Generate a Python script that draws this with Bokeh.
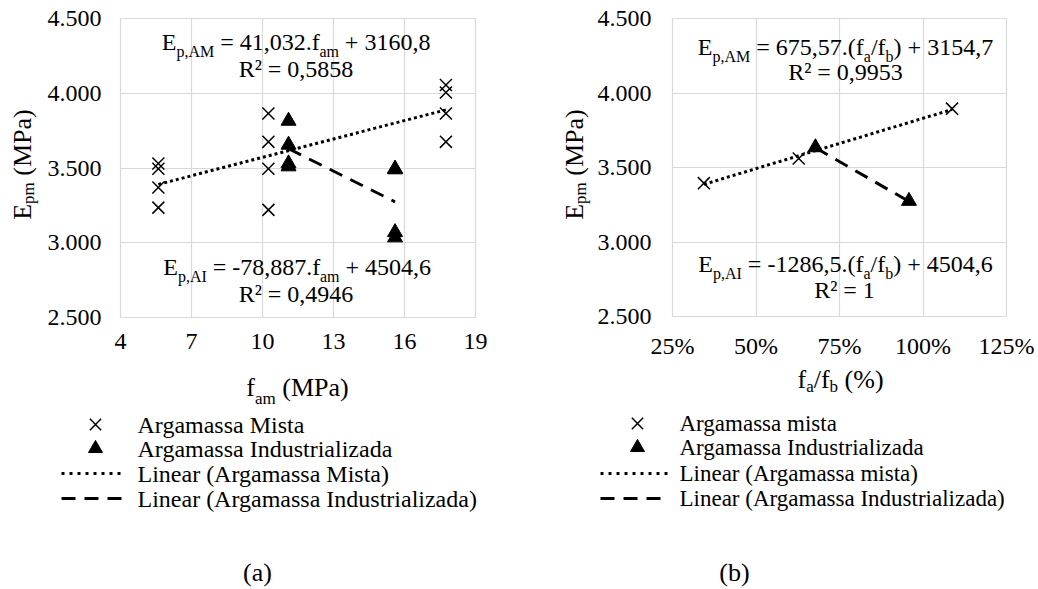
import numpy as np
from bokeh.plotting import figure
from bokeh.models import Range1d, FixedTicker, Label
from bokeh.layouts import row, column
from bokeh.embed import file_html
from bokeh.resources import INLINE

FONT = "Liberation Serif"

# ---------------- data (a) ----------------
a_mista_fam = [5.6, 5.6, 5.6, 5.6, 10.25, 10.25, 10.25, 10.25, 17.75, 17.75, 17.75, 17.75]
a_mista_E = [3530, 3495, 3370, 3235, 3865, 3675, 3495, 3220, 4055, 4005, 3865, 3675]
a_ind_fam = [11.1, 11.1, 11.1, 11.1, 15.6, 15.6, 15.6, 15.6]
a_ind_E = [3815, 3655, 3530, 3510, 3495, 3490, 3070, 3035]
a_fit_mista = [41.032, 3160.8]    # slope, intercept
a_fit_ind = [-78.887, 4504.6]
a_x_ticks = [4, 7, 10, 13, 16, 19]
a_x_labels = ["4", "7", "10", "13", "16", "19"]

# ---------------- data (b) ----------------
b_mista_ratio = [34.4, 62.8, 108.7]   # f_a/f_b in %
b_mista_E = [3395, 3560, 3895]
b_ind_ratio = [67.8, 95.8]
b_ind_E = [3635, 3275]
b_fit_mista = [675.57, 3154.7]    # slope per unit ratio, intercept
b_fit_ind = [-1286.5, 4504.6]
b_x_ticks = [25, 50, 75, 100, 125]
b_x_labels = ["25%", "50%", "75%", "100%", "125%"]

y_ticks = [2500, 3000, 3500, 4000, 4500]
y_labels = ["2.500", "3.000", "3.500", "4.000", "4.500"]

legend_a = ["Argamassa Mista", "Argamassa Industrializada",
            "Linear (Argamassa Mista)", "Linear (Argamassa Industrializada)"]
legend_b = ["Argamassa mista", "Argamassa Industrializada",
            "Linear (Argamassa mista)", "Linear (Argamassa Industrializada)"]

# ---------------- helpers ----------------
CW = {' ': 250, ',': 250, '.': 250, '=': 564, '+': 564, '-': 333, '(': 333, ')': 333,
      '/': 278, '%': 833, '\u00b2': 300, 'A': 722, 'E': 611, 'I': 333, 'M': 889,
      'P': 556, 'R': 667, 'a': 444, 'b': 500, 'f': 333, 'm': 778, 'p': 500}
MID = 0.3375   # distance (in em) from the alphabetic baseline up to the text-box middle


def tw(s, size):
    return sum(CW.get(c, 500) for c in s) * size / 1000.0


def make_conv(fl_page, ft_page, fw, fh, xr, yr):
    def conv(px, py):
        x = xr[0] + (px - fl_page) / fw * (xr[1] - xr[0])
        y = yr[1] - (py - ft_page) / fh * (yr[1] - yr[0])
        return x, y
    return conv


def ident(px, py):
    return px, py


def label(fig, conv, px, py, text, size, align="left", angle=0.0):
    x, y = conv(px, py)
    fig.add_layout(Label(x=x, y=y, text=text, text_font=FONT, text_font_size=f"{size}px",
                         text_align=align, text_baseline="middle", angle=angle,
                         text_color="black"))


def line_at(fig, conv, cx, base, text, size):
    """centred single-size text with its alphabetic baseline at page row `base`"""
    label(fig, conv, cx, base - MID * size, text, size, align="center")


def rich(fig, conv, cx, base, segs, main, sub, dy, vertical=False):
    sizes = [sub if s else main for _, s in segs]
    total = sum(tw(t, sz) for (t, _), sz in zip(segs, sizes))
    pos = -total / 2
    for (t, s), sz in zip(segs, sizes):
        lead = len(t) - len(t.lstrip(' '))
        start = pos + tw(' ' * lead, sz)
        txt = t.strip(' ')
        b = base + (dy if s else 0)
        if not vertical:
            label(fig, conv, cx + start, b - MID * sz, txt, sz)
        else:
            label(fig, conv, b - MID * sz, cx - start, txt, sz, angle=np.pi / 2)
        pos += tw(t, sz)


def make_plot(width, height, bl, br, bt, bb, xr, yr, xticks, xlabels, ystand):
    p = figure(width=width, height=height, x_range=Range1d(*xr), y_range=Range1d(*yr),
               output_backend="svg", toolbar_location=None, frame_align=False,
               min_border_left=bl, min_border_right=br, min_border_top=bt, min_border_bottom=bb)
    p.xaxis.ticker = FixedTicker(ticks=xticks)
    p.xaxis.major_label_overrides = dict(zip(xticks, xlabels))
    p.yaxis.ticker = FixedTicker(ticks=y_ticks)
    p.yaxis.major_label_overrides = dict(zip(y_ticks, y_labels))
    p.xgrid.ticker = FixedTicker(ticks=xticks)
    p.ygrid.ticker = FixedTicker(ticks=y_ticks)
    for ax in p.axis:
        ax.axis_line_color = None
        ax.major_tick_line_color = None
        ax.minor_tick_line_color = None
        ax.major_tick_in = 0
        ax.major_tick_out = 0
        ax.major_label_text_font = FONT
        ax.major_label_text_font_size = "24px"
        ax.major_label_text_color = "black"
    p.xaxis.major_label_standoff = 16
    p.yaxis.major_label_standoff = ystand
    p.grid.grid_line_color = "#d9d9d9"
    p.grid.grid_line_width = 1.2
    p.outline_line_color = "#d9d9d9"
    p.outline_line_width = 1.2
    return p


def make_blank(x0, x1, y0, y1):
    """Figure whose data coordinates equal page pixels (x0..x1, y0..y1, y downwards)."""
    f = figure(width=x1 - x0, height=y1 - y0, x_range=Range1d(x0, x1), y_range=Range1d(y1, y0),
               output_backend="svg", toolbar_location=None, min_border=0, frame_align=False,
               x_axis_type=None, y_axis_type=None)
    f.outline_line_color = None
    f.grid.visible = False
    return f


DOT = "3 3"
DASH = "14 9"
LDOT = "3 5"
MS_X = 17
MS_T = 15

PLOT_H = 365          # page rows 0..365 for plot figures
PAGE_H = 589
SPLIT = 528           # page column where panel (b) starts

# ---------------- panel (a) ----------------
A_YT = 44             # width of y-title strip
ya = make_blank(0, A_YT, 0, PLOT_H)
rich(ya, ident, 164, 31, [("E", 0), ("pm", 1), (" (MPa)", 0)], 26, 17, 3, vertical=True)

pa = make_plot(SPLIT - A_YT, PLOT_H, 119 - A_YT, SPLIT - 475, 18, PLOT_H - 317,
               (4, 19), (2500, 4500), a_x_ticks, a_x_labels, 19)
conv_a = make_conv(119, 18, 356, 299, (4, 19), (2500, 4500))

pa.scatter(a_mista_fam, a_mista_E, marker="x", size=MS_X, line_color="black", line_width=1.5)
pa.scatter(a_ind_fam, a_ind_E, marker="triangle", size=MS_T, fill_color="black", line_color="black")

xm = np.array([min(a_mista_fam), max(a_mista_fam)])
pa.line(xm, a_fit_mista[0] * xm + a_fit_mista[1], line_color="black", line_width=3, line_dash=DOT)
xi = np.array([min(a_ind_fam), max(a_ind_fam)])
pa.line(xi, a_fit_ind[0] * xi + a_fit_ind[1], line_color="black", line_width=3, line_dash=DASH)

rich(pa, conv_a, 295, 50, [("E", 0), ("p,AM", 1), (" = 41,032.f", 0), ("am", 1), (" + 3160,8", 0)], 24, 16, 6)
line_at(pa, conv_a, 295, 77, "R\u00b2 = 0,5858", 24)
rich(pa, conv_a, 296, 275, [("E", 0), ("p,AI", 1), (" = -78,887.f", 0), ("am", 1), (" + 4504,6", 0)], 24, 16, 6)
line_at(pa, conv_a, 295, 302, "R\u00b2 = 0,4946", 24)

la = make_blank(0, SPLIT, PLOT_H, PAGE_H)
rich(la, ident, 297, 396, [("f", 0), ("am", 1), (" (MPa)", 0)], 26, 17, 8)
la.scatter([95], [424], marker="x", size=MS_X - 1, line_color="black", line_width=1.5)
la.scatter([95], [448], marker="triangle", size=14, fill_color="black", line_color="black")
la.line([61, 121], [473, 473], line_color="black", line_width=3, line_dash=LDOT)
la.line([61, 121], [498, 498], line_color="black", line_width=3, line_dash=DASH)
for txt, yy in zip(legend_a, [424, 448, 473, 498]):
    label(la, ident, 137, yy, txt, 24)
label(la, ident, 257, 572, "(a)", 26, align="center")

# ---------------- panel (b) ----------------
B_YT = 64
yb = make_blank(SPLIT, SPLIT + B_YT, 0, PLOT_H)
rich(yb, ident, 164, 583, [("E", 0), ("pm", 1), (" (MPa)", 0)], 26, 17, 3, vertical=True)

pb = make_plot(1038 - SPLIT - B_YT, PLOT_H, 672 - SPLIT - B_YT, 1038 - 1006, 18, PLOT_H - 316,
               (25, 125), (2500, 4500), b_x_ticks, b_x_labels, 21)
conv_b = make_conv(672, 18, 334, 298, (25, 125), (2500, 4500))

pb.scatter(b_mista_ratio, b_mista_E, marker="x", size=MS_X, line_color="black", line_width=1.5)
pb.scatter(b_ind_ratio, b_ind_E, marker="triangle", size=MS_T, fill_color="black", line_color="black")

xm = np.array([min(b_mista_ratio), max(b_mista_ratio)])
pb.line(xm, b_fit_mista[0] * xm / 100 + b_fit_mista[1], line_color="black", line_width=3, line_dash=DOT)
xi = np.array([min(b_ind_ratio), max(b_ind_ratio)])
pb.line(xi, b_fit_ind[0] * xi / 100 + b_fit_ind[1], line_color="black", line_width=3, line_dash=DASH)

rich(pb, conv_b, 845, 55, [("E", 0), ("p,AM", 1), (" = 675,57.(f", 0), ("a", 1), ("/f", 0), ("b", 1), (") + 3154,7", 0)], 24, 16, 6)
line_at(pb, conv_b, 845, 80, "R\u00b2 = 0,9953", 24)
rich(pb, conv_b, 845, 272, [("E", 0), ("p,AI", 1), (" = -1286,5.(f", 0), ("a", 1), ("/f", 0), ("b", 1), (") + 4504,6", 0)], 24, 16, 6)
line_at(pb, conv_b, 844, 298, "R\u00b2 = 1", 24)

lb = make_blank(SPLIT, 1038, PLOT_H, PAGE_H)
rich(lb, ident, 840, 388, [("f", 0), ("a", 1), ("/f", 0), ("b", 1), (" (%)", 0)], 26, 17, 4)
lb.scatter([637], [423], marker="x", size=MS_X - 1, line_color="black", line_width=1.5)
lb.scatter([637], [447], marker="triangle", size=14, fill_color="black", line_color="black")
lb.line([600, 668], [473, 473], line_color="black", line_width=3, line_dash=LDOT)
lb.line([600, 668], [498, 498], line_color="black", line_width=3, line_dash=DASH)
for txt, yy in zip(legend_b, [423, 447, 473, 498]):
    label(lb, ident, 679, yy, txt, 23)
label(lb, ident, 734, 572, "(b)", 26, align="center")

layout = row(column(row(ya, pa), la), column(row(yb, pb), lb))
open("out.html", "w").write(file_html(layout, INLINE))
